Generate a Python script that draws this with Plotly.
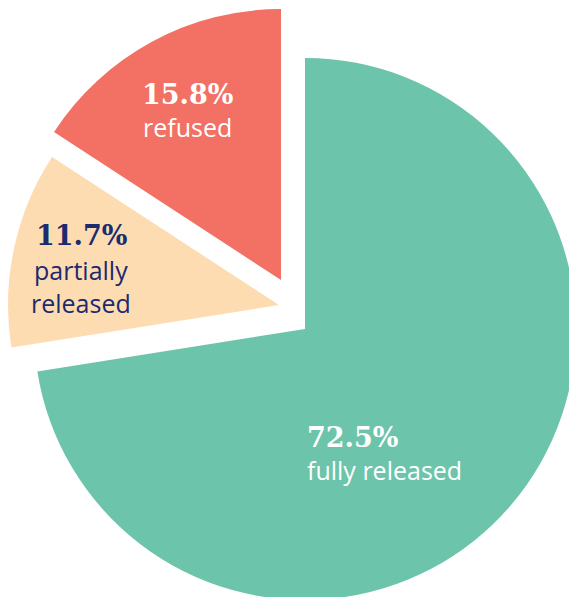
import plotly.graph_objects as go

# ---- data ----
categories = ["fully released", "partially released", "refused"]
shares = [72.5, 11.7, 15.8]
colors = ["#6cc4aa", "#fddcb2", "#f27064"]
label_colors = ["#ffffff", "#1c2a6e", "#ffffff"]

# figure is slightly larger than the 569x597 view so the pie can run off the edges
W, H = 578, 602
R = 271  # pie radius in px

# slice centre (px, from top-left) for each drawn trace: green base, peach & red exploded
centres = {
    0: (305, 329),
    1: (279, 305),
    2: (281, 280),
}

fig = go.Figure()
for i, cat in enumerate(categories):
    cx, cy = centres[i]
    dom_x = [(cx - R) / W, (cx + R) / W]
    dom_y = [1 - (cy + R) / H, 1 - (cy - R) / H]
    dom_x = [max(0, dom_x[0]), min(1, dom_x[1])]
    dom_y = [max(0, dom_y[0]), min(1, dom_y[1])]
    cols = [colors[j] if j == i else "rgba(0,0,0,0)" for j in range(len(categories))]
    fig.add_trace(go.Pie(
        labels=categories,
        values=shares,
        sort=False,
        direction="clockwise",
        rotation=0,
        marker=dict(colors=cols, line=dict(width=0)),
        textinfo="none",
        hoverinfo="label+percent",
        domain=dict(x=dom_x, y=dom_y),
        showlegend=False,
    ))

# ---- labels ----
label_pos = {
    # (x_px, y_pct_px, y_sub_px, anchor)
    0: (305, 437, 470, "left"),
    1: (81, 235, 286, "center"),
    2: (187, 94, 127, "center"),
}
sub_text = {0: "fully released", 1: "partially<br>released", 2: "refused"}
for i, cat in enumerate(categories):
    x, yp, ys, anc = label_pos[i]
    fig.add_annotation(
        x=x / W, y=1 - yp / H, xref="paper", yref="paper",
        text=f"<b>{shares[i]}%</b>", showarrow=False,
        xanchor=anc, yanchor="middle",
        font=dict(family="DejaVu Serif", size=27, color=label_colors[i]),
    )
    fig.add_annotation(
        x=x / W, y=1 - ys / H, xref="paper", yref="paper",
        text=sub_text[i], showarrow=False,
        xanchor=anc, yanchor="middle", align=anc,
        font=dict(family="Open Sans", size=25, color=label_colors[i]),
    )

fig.update_layout(
    width=W, height=H,
    margin=dict(l=0, r=0, t=0, b=0),
    paper_bgcolor="white",
    plot_bgcolor="white",
)

fig.write_html(
    "out.html",
    config={"displayModeBar": False},
    post_script="document.body.style.margin='0';document.body.style.overflow='hidden';",
)
